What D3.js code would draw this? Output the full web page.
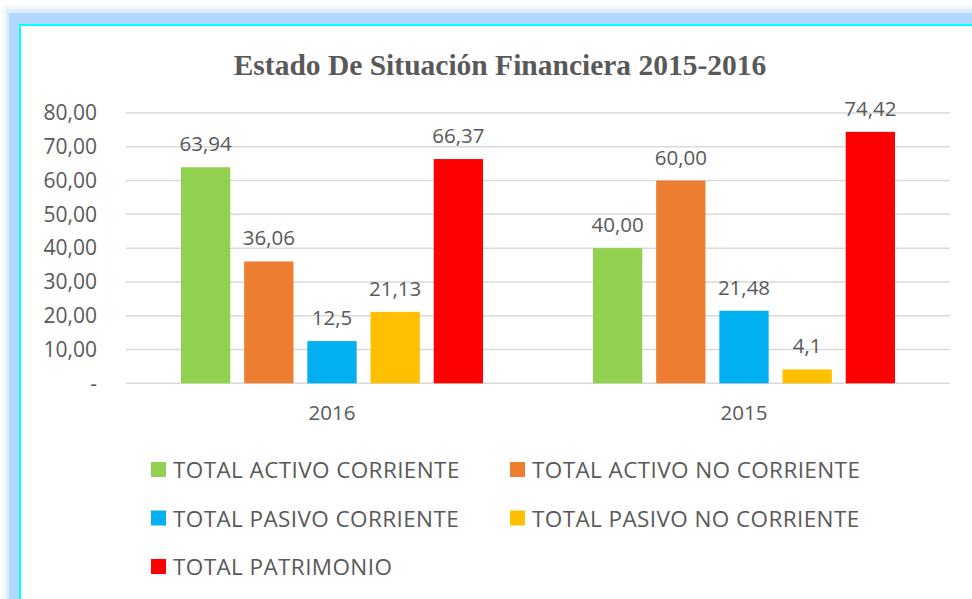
<!DOCTYPE html>
<html>
<head>
<meta charset="utf-8">
<script src="https://cdn.jsdelivr.net/npm/d3@7"></script>
<style>
  body { margin: 0; background: #fff; }
  text { font-family: "Open Sans", sans-serif; fill: #595959; }
</style>
</head>
<body>
<script>
const years = ["2016", "2015"];
const seriesNames = ["TOTAL ACTIVO CORRIENTE", "TOTAL ACTIVO NO CORRIENTE", "TOTAL PASIVO CORRIENTE", "TOTAL PASIVO NO CORRIENTE", "TOTAL PATRIMONIO"];
const seriesColors = ["#92d050", "#ed7d31", "#00b0f0", "#ffc000", "#ff0000"];
const values2016 = [63.94, 36.06, 12.5, 21.13, 66.37];
const values2015 = [40.00, 60.00, 21.48, 4.1, 74.42];
const labels2016 = ["63,94", "36,06", "12,5", "21,13", "66,37"];
const labels2015 = ["40,00", "60,00", "21,48", "4,1", "74,42"];
const yTicks = [0, 10, 20, 30, 40, 50, 60, 70, 80];

const data = years.map((yr, i) => ({
  year: yr,
  values: seriesNames.map((s, j) => ({
    series: s,
    value: i === 0 ? values2016[j] : values2015[j],
    label: i === 0 ? labels2016[j] : labels2015[j]
  }))
}));

const W = 972, H = 599;
const svg = d3.select("body").append("svg")
    .attr("width", W)
    .attr("height", H);

// frame (blue border with soft glow, cut at right and bottom)
svg.append("rect").attr("x", 3).attr("y", 5).attr("width", W).attr("height", H).attr("fill", "#f3f8ff");
svg.append("rect").attr("x", 6).attr("y", 9).attr("width", W).attr("height", H).attr("fill", "#ddeeff");
svg.append("rect").attr("x", 9).attr("y", 13).attr("width", W).attr("height", H).attr("fill", "#b3d8ff");
svg.append("rect").attr("x", 19).attr("y", 24).attr("width", W).attr("height", H).attr("fill", "#00ffff");
svg.append("rect").attr("x", 21).attr("y", 26).attr("width", W).attr("height", H).attr("fill", "#ffffff");

const margin = { top: 113, left: 126 },
      width = 950 - 126,
      height = 383.3 - 113;

const g = svg.append("g")
    .attr("transform", `translate(${margin.left},${margin.top})`);

const x0 = d3.scaleBand()
    .domain(years)
    .range([0, width]);

const x1 = d3.scaleBand()
    .domain(seriesNames)
    .range([0, x0.bandwidth()])
    .paddingInner(0.22)
    .paddingOuter(0.87);

const y = d3.scaleLinear()
    .domain([0, 80])
    .range([height, 0]);

const color = d3.scaleOrdinal()
    .domain(seriesNames)
    .range(seriesColors);

// gridlines
g.selectAll(".grid")
  .data(yTicks)
  .enter().append("line")
    .attr("x1", 0)
    .attr("x2", width)
    .attr("y1", d => y(d))
    .attr("y2", d => y(d))
    .attr("stroke", "#d9d9d9")
    .attr("stroke-width", 1.5);

// y axis labels
const yAxis = g.append("g")
    .call(d3.axisLeft(y).tickValues(yTicks).tickSize(0).tickPadding(29)
      .tickFormat(d => d === 0 ? "-" : d3.format(".2f")(d).replace(".", ",")));
yAxis.select(".domain").remove();
yAxis.selectAll("text")
    .style("font-family", "Open Sans, sans-serif")
    .style("font-size", "21px")
    .attr("fill", "#595959");

// x axis labels
const xAxis = g.append("g")
    .attr("transform", `translate(0,${height})`)
    .call(d3.axisBottom(x0).tickSize(0).tickPadding(22));
xAxis.select(".domain").remove();
xAxis.selectAll("text")
    .style("font-family", "Open Sans, sans-serif")
    .style("font-size", "20.5px")
    .attr("fill", "#595959");

// bars
const groups = g.selectAll(".year")
  .data(data)
  .enter().append("g")
    .attr("transform", d => `translate(${x0(d.year)},0)`);

groups.selectAll("rect")
  .data(d => d.values)
  .enter().append("rect")
    .attr("x", d => x1(d.series))
    .attr("y", d => y(d.value))
    .attr("width", x1.bandwidth())
    .attr("height", d => height - y(d.value))
    .attr("fill", d => color(d.series));

groups.selectAll(".lbl")
  .data(d => d.values)
  .enter().append("text")
    .attr("x", d => x1(d.series) + x1.bandwidth() / 2)
    .attr("y", d => y(d.value) - 16)
    .attr("text-anchor", "middle")
    .style("font-size", "20.5px")
    .text(d => d.label);

// title
svg.append("text")
    .attr("x", 500)
    .attr("y", 75)
    .attr("text-anchor", "middle")
    .style("font-family", "Liberation Serif, Times New Roman, serif")
    .style("font-weight", "bold")
    .style("font-size", "29.5px")
    .text("Estado De Situación Financiera 2015-2016");

// legend
const legend = svg.selectAll(".legend")
  .data(seriesNames)
  .enter().append("g")
    .attr("transform", (d, i) => `translate(${i % 2 === 0 ? 151 : 510},${462 + Math.floor(i / 2) * 48.5})`);

legend.append("rect")
    .attr("width", 15)
    .attr("height", 15)
    .attr("fill", d => color(d));

legend.append("text")
    .attr("x", 22)
    .attr("y", 16)
    .style("font-size", "22.5px")
    .style("letter-spacing", "0.4px")
    .text(d => d);
</script>
</body>
</html>
